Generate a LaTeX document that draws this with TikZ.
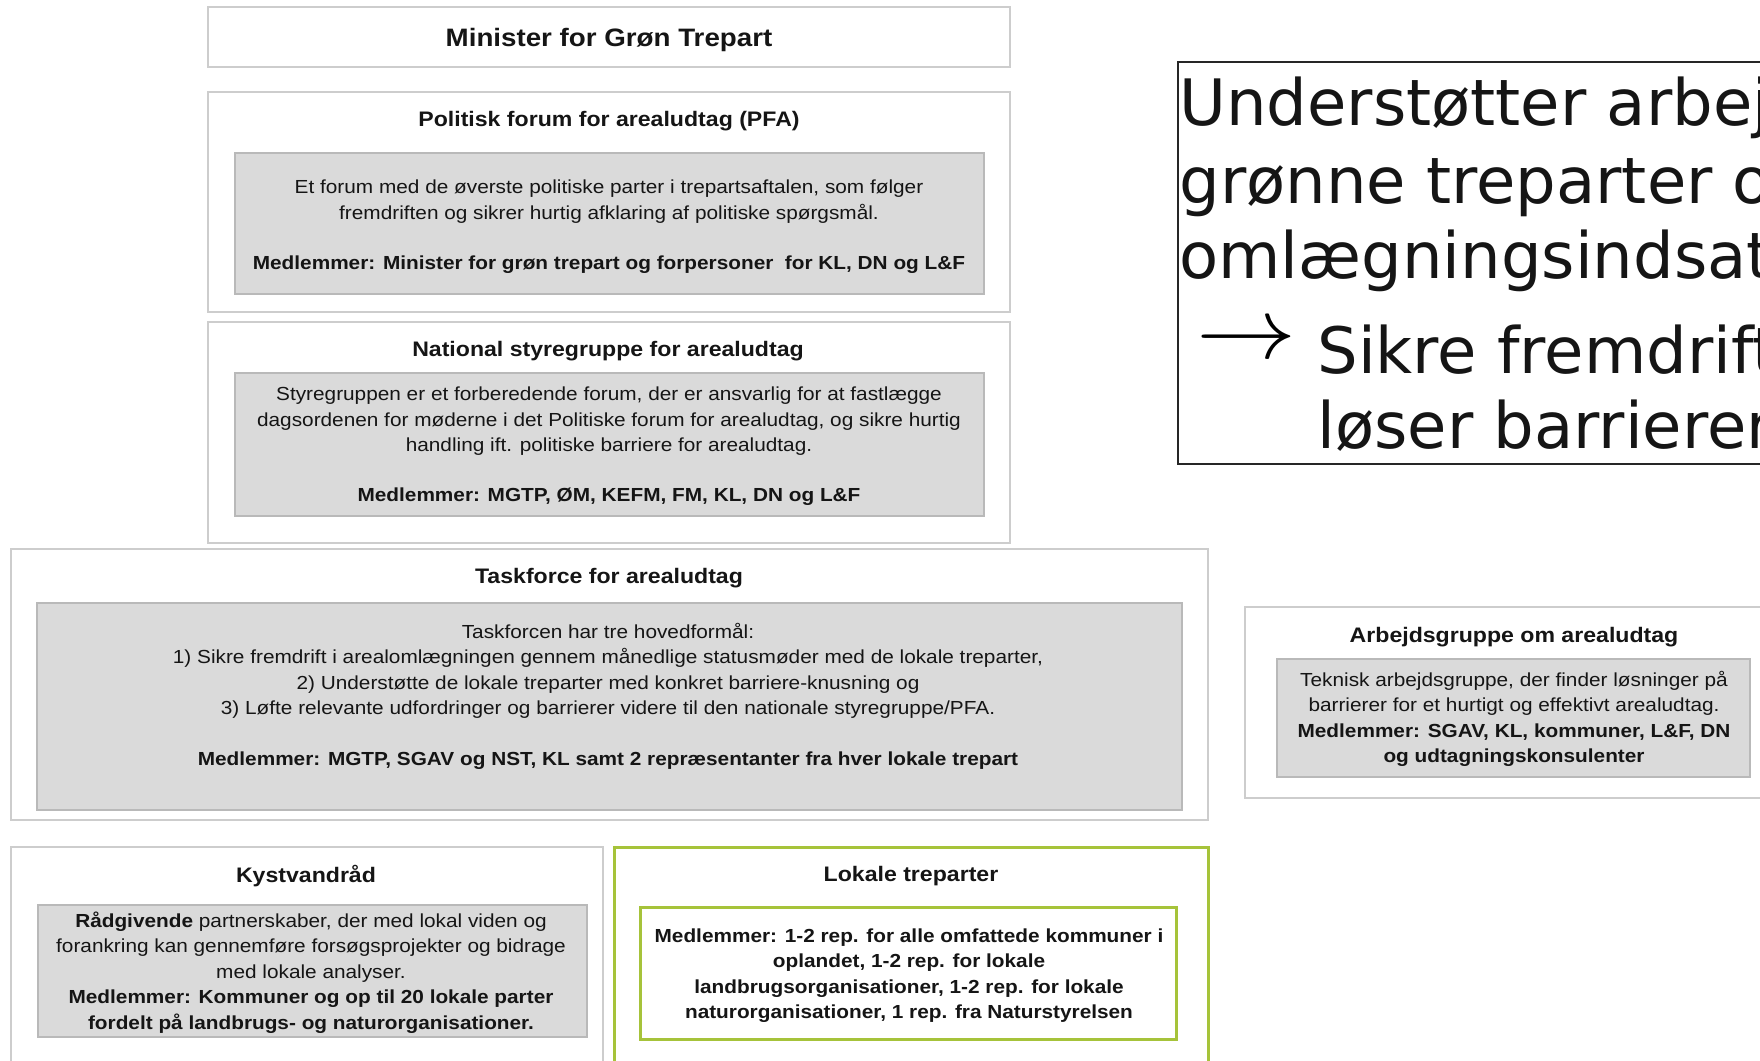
\documentclass[tikz,border=0pt]{standalone}
\usepackage{fontspec}
\setmainfont{Liberation Sans}[FakeStretch=1.1]
\newfontfamily\dejavu{DejaVu Sans}
\definecolor{outerc}{HTML}{CDCDCD}
\definecolor{innerfill}{HTML}{DADADA}
\definecolor{innerdraw}{HTML}{B9B9B9}
\definecolor{greenc}{HTML}{A6C33A}
\definecolor{txt}{HTML}{151515}
\tikzset{
  outerbox/.style={draw=outerc, line width=1.4pt, fill=white, inner sep=0pt},
  innerbox/.style={draw=innerdraw, line width=0.8pt, fill=innerfill, inner sep=0pt},
  greenouter/.style={draw=greenc, line width=1.5pt, fill=white, inner sep=0pt},
  greeninner/.style={draw=greenc, line width=1.5pt, fill=white, inner sep=0pt},
  titletext/.style={inner sep=0pt, yshift=-1.25pt, text=txt, font=\bfseries\fontsize{10.5}{12}\selectfont},
  bodytext/.style={inner sep=0pt, yshift=-1.25pt, align=center, text=txt, font=\fontsize{9.45}{12.75}\selectfont},
  bigtext/.style={inner sep=0pt, anchor=base west, text=txt, font=\dejavu\fontsize{32}{38}\selectfont},
  sidebox/.style={draw=black!85, line width=1pt, inner sep=0pt}
}
\begin{document}
\begin{tikzpicture}[x=0.5pt,y=-0.5pt]
\fill[white] (0,0) rectangle (1760,1060);
\useasboundingbox (0,0) rectangle (1760,1060);
\clip (0,0) rectangle (1760,1060);

% Minister
\node[outerbox, minimum width=401pt, minimum height=30pt] (minister) at (609,37) {};
\node[titletext, font=\bfseries\fontsize{12.6}{14}\selectfont] (ministerT) at (609,37) {Minister for Grøn Trepart};

% PFA
\node[outerbox, minimum width=401pt, minimum height=110pt] (pfa) at (609,202) {};
\node[innerbox, minimum width=374.5pt, minimum height=70.5pt] (pfaIn) at (609.5,223.5) {};
\node[titletext] (pfaT) at (609,119) {Politisk forum for arealudtag (PFA)};
\node[bodytext] (pfaB) at (609,224.5) {Et forum med de øverste politiske parter i trepartsaftalen, som følger\\
fremdriften og sikrer hurtig afklaring af politiske spørgsmål.\\[12.5pt]
\textbf{Medlemmer: Minister for grøn trepart og forpersoner\ \ for KL, DN og L\&F}};

% National styregruppe
\node[outerbox, minimum width=401pt, minimum height=110.5pt] (nat) at (609,432.5) {};
\node[innerbox, minimum width=374.5pt, minimum height=71.5pt] (natIn) at (609.5,444.5) {};
\node[titletext] (natT) at (608,349) {National styregruppe for arealudtag};
\node[bodytext] (natB) at (609,444) {Styregruppen er et forberedende forum, der er ansvarlig for at fastlægge\\
dagsordenen for møderne i det Politiske forum for arealudtag, og sikre hurtig\\
handling ift. politiske barriere for arealudtag.\\[12.25pt]
\textbf{Medlemmer: MGTP, ØM, KEFM, FM, KL, DN og L\&F}};

% Taskforce
\node[outerbox, minimum width=598.5pt, minimum height=135.5pt] (task) at (609.5,684.5) {};
\node[innerbox, minimum width=572.5pt, minimum height=103.5pt] (taskIn) at (609.5,706.5) {};
\node[titletext] (taskT) at (609,576) {Taskforce for arealudtag};
\node[bodytext] (taskB) at (608,694) {Taskforcen har tre hovedformål:\\
1) Sikre fremdrift i arealomlægningen gennem månedlige statusmøder med de lokale treparter,\\
2) Understøtte de lokale treparter med konkret barriere-knusning og\\
3) Løfte relevante udfordringer og barrierer videre til den nationale styregruppe/PFA.\\[12.75pt]
\textbf{Medlemmer: MGTP, SGAV og NST, KL samt 2 repræsentanter fra hver lokale trepart}};

% Kystvandraad
\node[outerbox, minimum width=296pt, minimum height=116.5pt] (kyst) at (307,963.5) {};
\node[innerbox, minimum width=274.5pt, minimum height=66pt] (kystIn) at (312.5,971) {};
\node[titletext] (kystT) at (306,874) {Kystvandråd};
\node[bodytext] (kystB) at (311,970) {\textbf{Rådgivende} partnerskaber, der med lokal viden og\\
forankring kan gennemføre forsøgsprojekter og bidrage\\
med lokale analyser.\\
\textbf{Medlemmer: Kommuner og op til 20 lokale parter}\\
\textbf{fordelt på landbrugs- og naturorganisationer.}};

% Lokale treparter
\node[greenouter, minimum width=297pt, minimum height=116.5pt] (lokal) at (911,963.5) {};
\node[greeninner, minimum width=268pt, minimum height=66pt] (lokalIn) at (908,973) {};
\node[titletext] (lokalT) at (911,874) {Lokale treparter};
\node[bodytext, font=\bfseries\fontsize{9.45}{12.75}\selectfont] (lokalB) at (909,973) {Medlemmer: 1-2 rep. for alle omfattede kommuner i\\
oplandet, 1-2 rep. for lokale\\
landbrugsorganisationer, 1-2 rep. for lokale\\
naturorganisationer, 1 rep. fra Naturstyrelsen};

% Arbejdsgruppe
\node[outerbox, minimum width=277.5pt, minimum height=95.5pt] (arb) at (1522.5,702.5) {};
\node[innerbox, minimum width=236.5pt, minimum height=59pt] (arbIn) at (1513.5,718) {};
\node[titletext] (arbT) at (1514,635) {Arbejdsgruppe om arealudtag};
\node[bodytext] (arbB) at (1514,716.5) {Teknisk arbejdsgruppe, der finder løsninger på\\
barrierer for et hurtigt og effektivt arealudtag.\\
\textbf{Medlemmer: SGAV, KL, kommuner, L\&F, DN}\\
\textbf{og udtagningskonsulenter}};

% Right text box
\node[sidebox, minimum width=311pt, minimum height=201pt] (side) at (1489,263) {};
\node[bigtext] (s1) at (1179,125) {Understøtter arbej};
\node[bigtext] (s2) at (1179,203) {grønne treparter o};
\node[bigtext] (s3) at (1179,278) {omlægningsindsats};
\node[inner sep=0pt, text=black] (sarrow) at (1246,342) {\resizebox{50pt}{16pt}{$\rightarrow$}};
\node[bigtext] (s4) at (1317,373) {Sikre fremdrift};
\node[bigtext] (s5) at (1317,448) {løser barrierer};
\end{tikzpicture}
\end{document}
